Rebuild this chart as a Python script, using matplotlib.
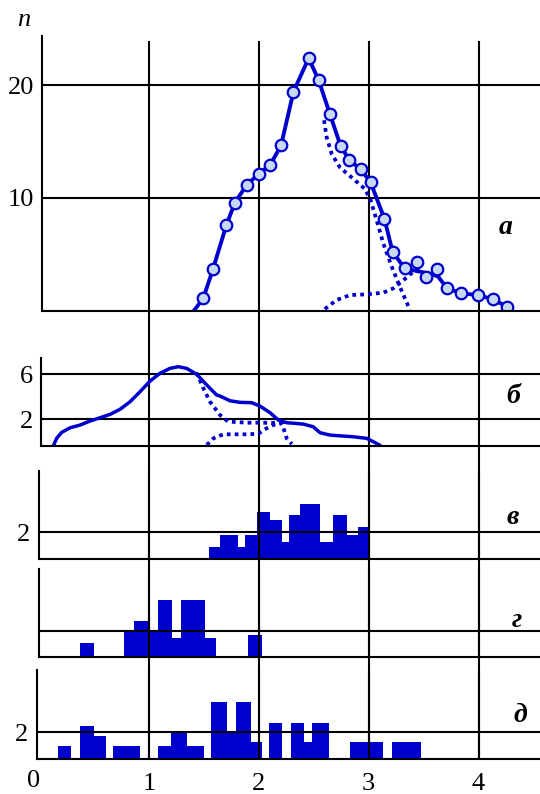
import matplotlib
matplotlib.use('Agg')
import matplotlib.pyplot as plt

# --- panel а: measured points and fitted curves ---
a_x = [1.493, 1.581, 1.703, 1.781, 1.891, 2.001, 2.104, 2.202, 2.315, 2.453,
       2.544, 2.647, 2.744, 2.823, 2.929, 3.017, 3.143, 3.218, 3.328, 3.441,
       3.522, 3.623, 3.713, 3.839, 3.996, 4.134, 4.259]
a_n = [1.09, 3.67, 7.57, 9.59, 11.18, 12.16, 12.96, 14.67, 19.44, 22.40,
       20.47, 17.43, 14.62, 13.37, 12.54, 11.39, 8.17, 5.21, 3.76, 4.32,
       2.99, 3.73, 2.01, 1.54, 1.39, 1.00, 0.35]
a_line_x = [1.408, 1.493, 1.581, 1.703, 1.781, 1.891, 2.001, 2.104, 2.202, 2.315,
            2.453, 2.544, 2.647, 2.744, 2.823, 2.929, 3.017, 3.143, 3.218, 3.328,
            3.446, 3.55, 3.63, 3.713, 3.839, 3.996, 4.134, 4.259]
a_line_n = [0.0, 1.09, 3.67, 7.57, 9.59, 11.18, 12.16, 12.96, 14.67, 19.44,
            22.40, 20.47, 17.43, 14.62, 13.37, 12.54, 11.39, 8.17, 5.21, 3.76,
            3.5, 3.3, 3.05, 2.01, 1.54, 1.39, 1.00, 0.35]
a_part1_x = [2.593, 2.617, 2.663, 2.739, 2.86, 2.966, 3.018, 3.073, 3.133, 3.21, 3.285, 3.376]
a_part1_n = [16.9, 15.4, 13.9, 12.7, 11.7, 10.8, 9.8, 8.0, 5.96, 3.9, 2.1, 0.06]
a_part2_x = [2.6, 2.708, 2.83, 2.982, 3.133, 3.224, 3.315, 3.406, 3.47]
a_part2_n = [0.15, 0.95, 1.39, 1.45, 1.6, 1.98, 2.7, 3.45, 3.9]

# --- panel б: smooth distribution and its components ---
b_x = [0.134, 0.158, 0.204, 0.28, 0.371, 0.462, 0.553, 0.644, 0.735, 0.826,
       0.917, 1.008, 1.099, 1.19, 1.266, 1.342, 1.434, 1.525, 1.616, 1.646,
       1.737, 1.828, 1.934, 2.01, 2.101, 2.177, 2.253, 2.404, 2.495, 2.557,
       2.648, 2.86, 2.982, 3.042, 3.097]
b_y = [-0.22, 0.31, 0.84, 1.25, 1.49, 1.85, 2.14, 2.44, 2.89, 3.56,
       4.45, 5.4, 6.09, 6.53, 6.68, 6.53, 6.0, 5.05, 4.16, 4.07,
       3.65, 3.51, 3.48, 3.18, 2.59, 1.94, 1.7, 1.58, 1.34, 0.81,
       0.6, 0.45, 0.31, 0.01, -0.28]
b_part1_x = [1.43, 1.448, 1.494, 1.555, 1.646, 1.72, 1.889, 2.01, 2.131, 2.2]
b_part1_y = [6.15, 5.79, 4.76, 3.56, 2.38, 1.8, 1.7, 1.7, 1.68, 1.7]
b_part2_x = [1.525, 1.585, 1.676, 1.889, 1.995, 2.07, 2.131, 2.21, 2.253, 2.3]
b_part2_y = [-0.28, 0.31, 0.67, 0.67, 0.72, 1.2, 1.5, 1.64, 0.31, -0.2]

# --- histograms в, г, д ---
v_edges = [1.546, 1.65, 1.807, 1.869, 1.979, 2.098, 2.214, 2.277, 2.377, 2.553,
           2.679, 2.804, 2.898, 3.014]
v_counts = [0.94, 1.78, 0.94, 1.78, 3.53, 2.91, 1.26, 3.26, 4.12, 1.26, 3.26, 1.83, 2.4]
g_edges = [0.37, 0.498, 0.774, 0.865, 0.997, 1.079, 1.207, 1.292, 1.505, 1.606, 1.897, 2.026]
g_counts = [1.1, 0, 2.0, 2.73, 2.0, 4.3, 1.43, 4.3, 1.43, 0, 1.7]
d_edges = [0.172, 0.288, 0.37, 0.498, 0.605, 0.674, 0.913, 1.079, 1.201, 1.345,
           1.502, 1.568, 1.709, 1.794, 1.929, 2.029, 2.089, 2.214, 2.289, 2.415,
           2.481, 2.634, 2.826, 3.133, 3.215, 3.478]
d_counts = [1.0, 0, 2.5, 1.7, 0, 1.0, 0, 1.0, 2.0, 1.0,
            0, 4.3, 2.0, 4.3, 1.3, 0, 2.7, 0, 2.7, 1.3,
            2.7, 0, 1.3, 0, 1.3]

x_ticks = [1, 2, 3, 4]
BLUE = '#0000CC'
FILL = '#C8D8F0'
SERIF = ['Liberation Serif', 'DejaVu Serif']

W, H = 540, 794
X0, PXU = 39.3, 109.8          # pixel of x=0 and pixels per x unit
X_RIGHT = (W - X0) / PXU

fig = plt.figure(figsize=(W / 100, H / 100), dpi=100)

# vertical grid running through every panel
bg = fig.add_axes([X0 / W, 1 - 759 / H, 1 - X0 / W, (759 - 41) / H])
bg.set_xlim(0, X_RIGHT)
bg.axis('off')
for xv in x_ticks:
    bg.axvline(xv, color='k', lw=1.5)


def panel(spine, bottom, top, y0, pxu):
    left = spine / W
    ax = fig.add_axes([left, 1 - bottom / H, 1 - left, (bottom - top) / H])
    ax.set_facecolor('none')
    ax.set_xlim((spine - X0) / PXU, X_RIGHT)
    ax.set_ylim(y0, y0 + (bottom - top) / pxu)
    for s in ['top', 'right']:
        ax.spines[s].set_visible(False)
    for s in ['left', 'bottom']:
        ax.spines[s].set_linewidth(1.5)
        ax.spines[s].set_zorder(4)
    ax.set_xticks([])
    ax.tick_params(axis='y', length=0, pad=6, labelsize=19)
    return ax


def grid(ax, levels, over=False):
    z = 3 if over else 1.5
    for lv in levels:
        ax.axhline(lv, color='k', lw=1.5, zorder=z)
    if over:
        for xv in x_ticks:
            ax.axvline(xv, color='k', lw=1.5, zorder=z)
    ax.set_yticks(levels)
    for lab in ax.get_yticklabels():
        lab.set_family(SERIF)


dots = dict(color=BLUE, lw=2.7, dashes=(1.0, 1.1), zorder=2.5)

# а
ax_a = panel(42.4, 310.7, 35.7, 0, 11.27)
grid(ax_a, [10, 20])
ax_a.plot(a_part1_x, a_part1_n, **dots)
ax_a.plot(a_part2_x, a_part2_n, **dots)
ax_a.plot(a_line_x, a_line_n, color=BLUE, lw=2.8, zorder=3)
ax_a.plot(a_x, a_n, 'o', ms=8.3, mfc=FILL, mec=BLUE, mew=1.6, zorder=4)

# б
ax_b = panel(41.3, 446, 357.7, -0.37, 11.25)
grid(ax_b, [2, 6])
ax_b.plot(b_part1_x, b_part1_y, **dots)
ax_b.plot(b_part2_x, b_part2_y, **dots)
ax_b.plot(b_x, b_y, color=BLUE, lw=2.5, zorder=3, solid_joinstyle='round')

# в
ax_v = panel(38.9, 559.3, 471, 0, 13.5)
ax_v.stairs(v_counts, v_edges, fill=True, color=BLUE, lw=0, zorder=2)
grid(ax_v, [2], over=True)

# г
ax_g = panel(38.6, 657.3, 569, 0, 13.33)
ax_g.stairs(g_counts, g_edges, fill=True, color=BLUE, lw=0, zorder=2)
grid(ax_g, [2], over=True)
ax_g.set_yticklabels([])

# д
ax_d = panel(36.8, 759, 670, 0, 13.33)
ax_d.stairs(d_counts, d_edges, fill=True, color=BLUE, lw=0, zorder=2)
grid(ax_d, [2], over=True)
ax_d.set_xticks(x_ticks)
ax_d.tick_params(axis='x', length=0, pad=10, labelsize=19)
for lab in ax_d.get_xticklabels():
    lab.set_family(SERIF)
ax_d.text(-0.054, -10 / 13.33 - 0.9, '0', ha='center', va='center',
          fontsize=19, family=SERIF)

# axis name and panel letters
fig.text(24 / W, 1 - 20 / H, 'n', ha='center', va='center', fontsize=19,
         style='italic', family=SERIF)
for lbl, px, py in [('а', 505.6, 228), ('б', 513, 396.7), ('в', 513, 517.7),
                    ('г', 516.6, 620.7), ('д', 520, 715)]:
    fig.text(px / W, 1 - py / H, lbl, ha='center', va='center', fontsize=20,
             style='italic', weight='bold', family=SERIF)

fig.savefig('out.png', dpi=100)
